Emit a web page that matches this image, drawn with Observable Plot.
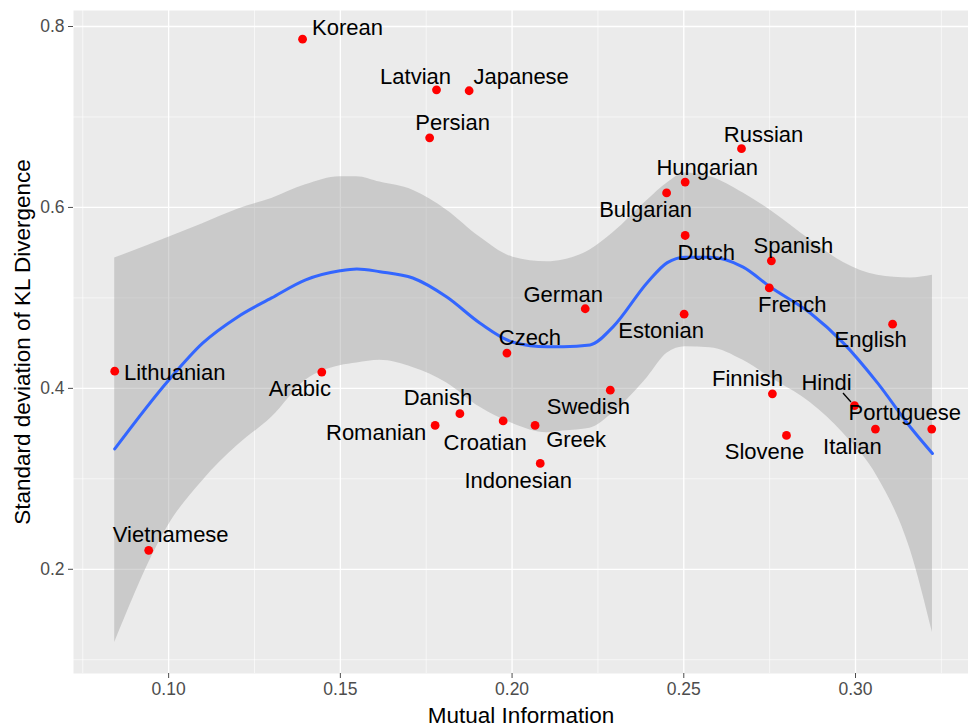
<!DOCTYPE html>
<html>
<head>
<meta charset="utf-8">
<script src="https://cdn.jsdelivr.net/npm/d3@7"></script>
<script src="https://cdn.jsdelivr.net/npm/@observablehq/plot@0.6"></script>
<style>
  html, body { margin: 0; padding: 0; background: white; }
</style>
</head>
<body>
<div id="chart"></div>
<script>
// ---- Data ----
const languages = ["Korean","Latvian","Japanese","Persian","Russian","Hungarian","Bulgarian","Dutch","Spanish","French","German","Estonian","English","Czech","Lithuanian","Arabic","Swedish","Finnish","Hindi","Danish","Croatian","Romanian","Greek","Portuguese","Italian","Slovene","Indonesian","Vietnamese"];
const mutualInfo = [0.139,0.178,0.1875,0.176,0.2668,0.2504,0.245,0.2504,0.2755,0.2749,0.2213,0.2501,0.3108,0.1985,0.0843,0.1446,0.2286,0.2758,0.2997,0.1848,0.1974,0.1776,0.2067,0.3222,0.3058,0.2799,0.2082,0.0942];
const sdKL = [0.786,0.730,0.729,0.677,0.665,0.628,0.616,0.569,0.541,0.511,0.488,0.482,0.471,0.439,0.419,0.418,0.398,0.394,0.381,0.372,0.364,0.359,0.359,0.355,0.355,0.348,0.317,0.221];

// Smoothed fit (loess) and its confidence band
const smoothX     = [0.0843,0.1000,0.1099,0.1201,0.1300,0.1399,0.1499,0.1548,0.1615,0.1711,0.1810,0.1907,0.2003,0.2102,0.2149,0.2227,0.2294,0.2394,0.2452,0.2504,0.2577,0.2673,0.2752,0.2869,0.2965,0.3064,0.3160,0.3224];
const smoothFit   = [0.333,0.409,0.450,0.479,0.500,0.520,0.530,0.532,0.529,0.522,0.501,0.472,0.451,0.446,0.446,0.448,0.468,0.517,0.539,0.545,0.545,0.534,0.512,0.483,0.450,0.406,0.357,0.328];
const smoothLower = [0.119,0.249,0.298,0.337,0.368,0.409,0.425,0.428,0.431,0.423,0.406,0.379,0.361,0.351,0.353,0.356,0.373,0.412,0.439,0.446,0.445,0.431,0.412,0.384,0.350,0.302,0.221,0.130];
const smoothUpper = [0.544,0.567,0.582,0.598,0.610,0.625,0.634,0.634,0.628,0.619,0.597,0.567,0.545,0.540,0.542,0.553,0.572,0.608,0.627,0.638,0.634,0.616,0.597,0.564,0.539,0.525,0.522,0.525];

// Tick values
const xMajor = [0.10,0.15,0.20,0.25,0.30];
const xMinor = [0.075,0.125,0.175,0.225,0.275,0.325];
const yMajor = [0.2,0.4,0.6,0.8];
const yMinor = [0.1,0.3,0.5,0.7];

// Label placement (pixel offsets of label centre from its point)
const labelOffset = {
  Korean:[45,-11], Latvian:[-21,-13], Japanese:[52,-14], Persian:[23,-15],
  Russian:[22,-14], Hungarian:[22,-14], Bulgarian:[-21,17], Dutch:[21,17],
  Spanish:[22,-15], French:[23,17], German:[-22,-14], Estonian:[-23,17],
  English:[-22,16], Czech:[23,-15], Lithuanian:[60,2], Arabic:[-22,17],
  Swedish:[-22,17], Finnish:[-25,-15], Hindi:[-28,-23], Danish:[-22,-16],
  Croatian:[-18,22], Romanian:[-59,8], Greek:[41,15], Portuguese:[-27,-16],
  Italian:[-23,18], Slovene:[-22,17], Indonesian:[-22,18], Vietnamese:[22,-15]
};

const points = languages.map((name, i) => ({name, x: mutualInfo[i], y: sdKL[i]}));
const smooth = smoothX.map((x, i) => ({x, fit: smoothFit[i], lo: smoothLower[i], hi: smoothUpper[i]}));

const labelMarks = points.map(p => Plot.text([p], {
  x: "x", y: "y", text: "name",
  dx: labelOffset[p.name][0], dy: labelOffset[p.name][1],
  fontSize: 22, fill: "black", textAnchor: "middle", lineAnchor: "middle"
}));

// ggrepel-style connector for the Hindi label
const hindiSegment = (index, scales) => {
  const p = points.find(d => d.name === "Hindi");
  const px = scales.x(p.x), py = scales.y(p.y);
  const g = d3.create("svg:g");
  g.append("line")
    .attr("x1", px - 11).attr("y1", py - 12)
    .attr("x2", px - 3).attr("y2", py - 3)
    .attr("stroke", "black").attr("stroke-width", 1.3);
  return g.node();
};

const chart = Plot.plot({
  width: 968,
  height: 727,
  marginLeft: 73,
  marginRight: 0,
  marginTop: 10,
  marginBottom: 54,
  style: { fontFamily: "'Liberation Sans', Arial, sans-serif", background: "white" },
  x: { domain: [0.0723, 0.3329], axis: null },
  y: { domain: [0.0848, 0.8177], axis: null },
  marks: [
    Plot.frame({ fill: "#EBEBEB", stroke: null }),
    Plot.gridX(xMinor, { stroke: "white", strokeOpacity: 1, strokeWidth: 0.6 }),
    Plot.gridY(yMinor, { stroke: "white", strokeOpacity: 1, strokeWidth: 0.6 }),
    Plot.gridX(xMajor, { stroke: "white", strokeOpacity: 1, strokeWidth: 1.3 }),
    Plot.gridY(yMajor, { stroke: "white", strokeOpacity: 1, strokeWidth: 1.3 }),
    Plot.areaY(smooth, { x: "x", y1: "lo", y2: "hi", fill: "#999999", fillOpacity: 0.4, curve: "monotone-x" }),
    Plot.line(smooth, { x: "x", y: "fit", stroke: "#3366FF", strokeWidth: 3, curve: "monotone-x" }),
    Plot.dot(points, { x: "x", y: "y", r: 4.4, fill: "red", stroke: null }),
    hindiSegment,
    ...labelMarks,
    Plot.axisX(xMajor, { tickSize: 5, tickPadding: 4, fontSize: 17.5, color: "#4D4D4D", label: null, tickFormat: d3.format(".2f") }),
    Plot.axisY(yMajor, { tickSize: 5, tickPadding: 4, fontSize: 17.5, color: "#4D4D4D", label: null, tickFormat: d3.format(".1f") }),
    Plot.text(["Mutual Information"], { frameAnchor: "bottom", dy: 42, textAnchor: "middle", lineAnchor: "middle", fontSize: 22.5, fill: "black" }),
    Plot.text(["Standard deviation of KL Divergence"], { frameAnchor: "left", dx: -51, rotate: -90, textAnchor: "middle", lineAnchor: "middle", fontSize: 22.5, fill: "black" })
  ]
});

document.getElementById("chart").appendChild(chart);
</script>
</body>
</html>
